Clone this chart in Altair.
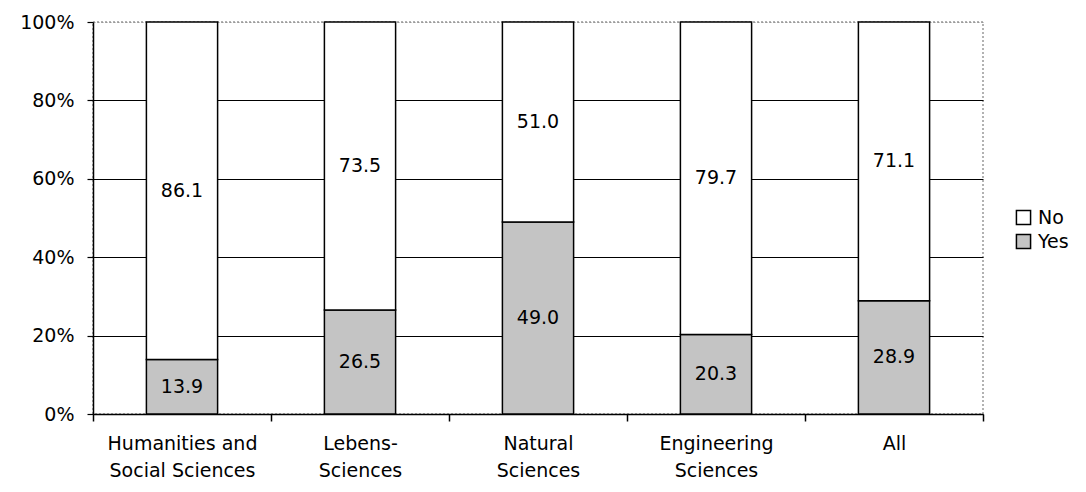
import altair as alt
import pandas as pd

categories = ["Humanities and\nSocial Sciences", "Lebens-\nSciences", "Natural\nSciences",
              "Engineering\nSciences", "All"]
yes_values = [13.9, 26.5, 49.0, 20.3, 28.9]
no_values = [86.1, 73.5, 51.0, 79.7, 71.1]
responses = ["No", "Yes"]
y_ticks = [0, 0.2, 0.4, 0.6, 0.8, 1.0]

rows = []
for c, y, n in zip(categories, yes_values, no_values):
    rows.append({"category": c, "response": "Yes", "value": y, "ord": 0})
    rows.append({"category": c, "response": "No", "value": n, "ord": 1})
df = pd.DataFrame(rows)

FONT = "DejaVu Sans"
FS = 19

base = alt.Chart(df).transform_calculate(
    frac="datum.value / 100"
).transform_stack(
    stack="frac", groupby=["category"], as_=["y0", "y1"],
    sort=[alt.SortField("ord", order="ascending")]
).transform_calculate(
    mid="(datum.y0 + datum.y1) / 2"
)

xenc = alt.X("category:N", sort=categories, title=None,
             scale=alt.Scale(paddingInner=0, paddingOuter=0),
             axis=alt.Axis(labelAngle=0, labelExpr="split(datum.label, '\\n')",
                           labelLineHeight=27, labelPadding=13, tickBand="extent",
                           tickSize=7, tickColor="black", domainColor="black",
                           domainWidth=1.5, tickWidth=1.5, labelFontSize=FS,
                           labelColor="black", labelFont=FONT))

bars = base.mark_bar(stroke="black", strokeWidth=1.5,
                     width=alt.RelativeBandSize(0.4)).encode(
    x=xenc,
    y=alt.Y("y0:Q", title=None, scale=alt.Scale(domain=[0, 1]),
            axis=alt.Axis(values=y_ticks, format=".0%", grid=True,
                          gridColor=alt.condition("datum.value == 1", alt.value("#999999"), alt.value("black")),
                          gridDash=alt.condition("datum.value == 1", alt.value([2, 2]), alt.value([])),
                          gridWidth=1.2, tickSize=6, tickColor="black", tickWidth=1.2,
                          domainColor="black", domainWidth=1.5, labelFontSize=FS,
                          labelColor="black", labelFont=FONT, labelPadding=13)),
    y2="y1:Q",
    fill=alt.Fill("response:N", title=None,
                  scale=alt.Scale(domain=responses, range=["#ffffff", "#c4c4c4"]),
                  legend=alt.Legend(orient="none", legendX=921, legendY=186,
                                    symbolType="square", symbolSize=200,
                                    symbolStrokeColor="black", symbolStrokeWidth=1.5,
                                    labelFontSize=FS, labelFont=FONT, labelColor="black",
                                    rowPadding=3, labelOffset=5)),
)

labels = base.mark_text(fontSize=FS, font=FONT, color="black").encode(
    x=alt.X("category:N", sort=categories),
    y="mid:Q",
    text=alt.Text("value:Q", format=".1f"),
)

chart = (bars + labels).properties(
    width=890, height=392,
    autosize=alt.AutoSizeParams(type="none"),
    padding={"left": 85, "top": 14, "right": 95, "bottom": 70},
).configure_view(
    stroke="#999999", strokeDash=[2, 2], strokeWidth=1.5
)

chart.save("out.html", embed_options={"renderer": "svg", "actions": False})
